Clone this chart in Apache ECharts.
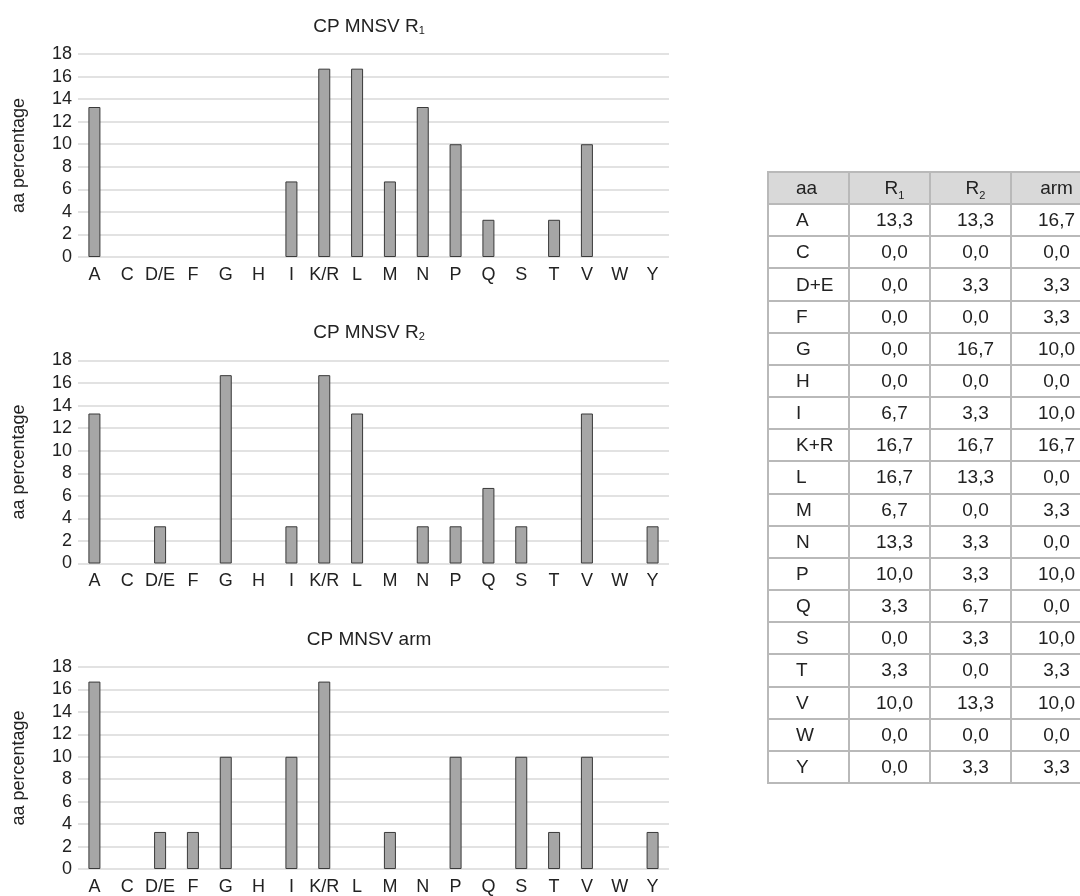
<!DOCTYPE html>
<html>
<head>
<meta charset="utf-8">
<script src="https://cdn.jsdelivr.net/npm/echarts@6/dist/echarts.min.js"></script>
<style>
  html, body { margin: 0; padding: 0; width: 1080px; height: 896px; overflow: hidden; background: #fff; }
  #chart { position: absolute; left: 0; top: 0; width: 1080px; height: 896px; }
  #wrap { position: absolute; left: 767px; top: 171px; width: 400px; }
  #tbl { border-collapse: collapse; table-layout: fixed; width: 326px;
         font-family: "Liberation Sans", Arial, sans-serif; font-size: 19px; color: #222; }
  #tbl td, #tbl th { border: 2px solid #b9b9b9; height: 30.16px; padding: 0; font-weight: normal; }
  #tbl th { background: #d9d9d9; }
  #tbl .aa { text-align: left; padding-left: 27px; }
  #tbl .num { text-align: center; padding-left: 10px; }
  #tbl sub { font-size: 11px; vertical-align: -5px; line-height: 0; }
</style>
</head>
<body>
<div id="chart"></div>
<div id="wrap"><table id="tbl"><colgroup><col style="width:81px"><col style="width:81px"><col style="width:81px"><col style="width:81px"></colgroup></table></div>
<script>
// ---- data ----
const categories = ['A','C','D/E','F','G','H','I','K/R','L','M','N','P','Q','S','T','V','W','Y'];
const tableLabels = ['A','C','D+E','F','G','H','I','K+R','L','M','N','P','Q','S','T','V','W','Y'];
const valuesR1  = [13.3, 0, 0, 0, 0, 0, 6.7, 16.7, 16.7, 6.7, 13.3, 10.0, 3.3, 0, 3.3, 10.0, 0, 0];
const valuesR2  = [13.3, 0, 3.3, 0, 16.7, 0, 3.3, 16.7, 13.3, 0, 3.3, 3.3, 6.7, 3.3, 0, 13.3, 0, 3.3];
const valuesArm = [16.7, 0, 3.3, 3.3, 10.0, 0, 10.0, 16.7, 0, 3.3, 0, 10.0, 0, 10.0, 3.3, 10.0, 0, 3.3];
const yTicks = { min: 0, max: 18, interval: 2 };
const chartTitles = [
  { main: 'CP MNSV R', sub: '1' },
  { main: 'CP MNSV R', sub: '2' },
  { main: 'CP MNSV arm', sub: '' }
];
const tableHeader = [
  { main: 'aa', sub: '' },
  { main: 'R', sub: '1' },
  { main: 'R', sub: '2' },
  { main: 'arm', sub: '' }
];

// ---- layout ----
const FONT = '"Liberation Sans", Arial, sans-serif';
const seriesValues = [valuesR1, valuesR2, valuesArm];
const gridTops = [54, 360.5, 667];
const gridH = 203;
const gridLeft = 78, gridRight = 411;

const option = {
  animation: false,
  textStyle: { fontFamily: FONT },
  title: chartTitles.map((t, i) => ({
    text: '{m|' + t.main + '}' + (t.sub ? '{s|' + t.sub + '}' : ''),
    left: 364, top: gridTops[i] - 53, textAlign: 'center',
    textStyle: {
      fontWeight: 'normal',
      rich: {
        m: { fontSize: 19, color: '#222', fontWeight: 'normal', fontFamily: FONT, lineHeight: 30, verticalAlign: 'bottom' },
        s: { fontSize: 11, color: '#222', fontWeight: 'normal', fontFamily: FONT, lineHeight: 11, verticalAlign: 'bottom' }
      }
    }
  })),
  grid: gridTops.map(t => ({ left: gridLeft, right: gridRight, top: t, height: gridH })),
  xAxis: gridTops.map((t, i) => ({
    type: 'category', gridIndex: i, data: categories,
    axisLine: { show: false }, axisTick: { show: false },
    axisLabel: { interval: 0, hideOverlap: false, fontSize: 18, color: '#222', margin: 9, fontFamily: FONT }
  })),
  yAxis: gridTops.map((t, i) => ({
    type: 'value', gridIndex: i, min: yTicks.min, max: yTicks.max, interval: yTicks.interval,
    name: 'aa percentage', nameLocation: 'middle', nameRotate: 90, nameGap: 50,
    nameTextStyle: { fontSize: 18, color: '#222', fontFamily: FONT },
    axisLine: { show: false }, axisTick: { show: false },
    axisLabel: { fontSize: 18, color: '#222', margin: 6, fontFamily: FONT },
    splitLine: { lineStyle: { color: '#e2e2e2', width: 2 } }
  })),
  series: seriesValues.map((vals, i) => ({
    type: 'bar', xAxisIndex: i, yAxisIndex: i,
    data: vals.map(v => (v === 0 ? null : v)),
    barWidth: 12,
    itemStyle: { color: '#a6a6a6', borderColor: '#3a3a3a', borderWidth: 1 }
  }))
};

echarts.init(document.getElementById('chart'), null, { renderer: 'canvas' }).setOption(option);

// ---- table built from the same arrays ----
const fmt = v => v.toFixed(1).replace('.', ',');
const tbl = document.getElementById('tbl');
let html = '<tr>' + tableHeader.map((h, j) =>
  '<th class="' + (j === 0 ? 'aa' : 'num') + '">' + h.main + (h.sub ? '<sub>' + h.sub + '</sub>' : '') + '</th>'
).join('') + '</tr>';
tableLabels.forEach((lab, r) => {
  html += '<tr><td class="aa">' + lab + '</td>' +
    seriesValues.map(vals => '<td class="num">' + fmt(vals[r]) + '</td>').join('') + '</tr>';
});
tbl.insertAdjacentHTML('beforeend', html);
</script>
</body>
</html>
